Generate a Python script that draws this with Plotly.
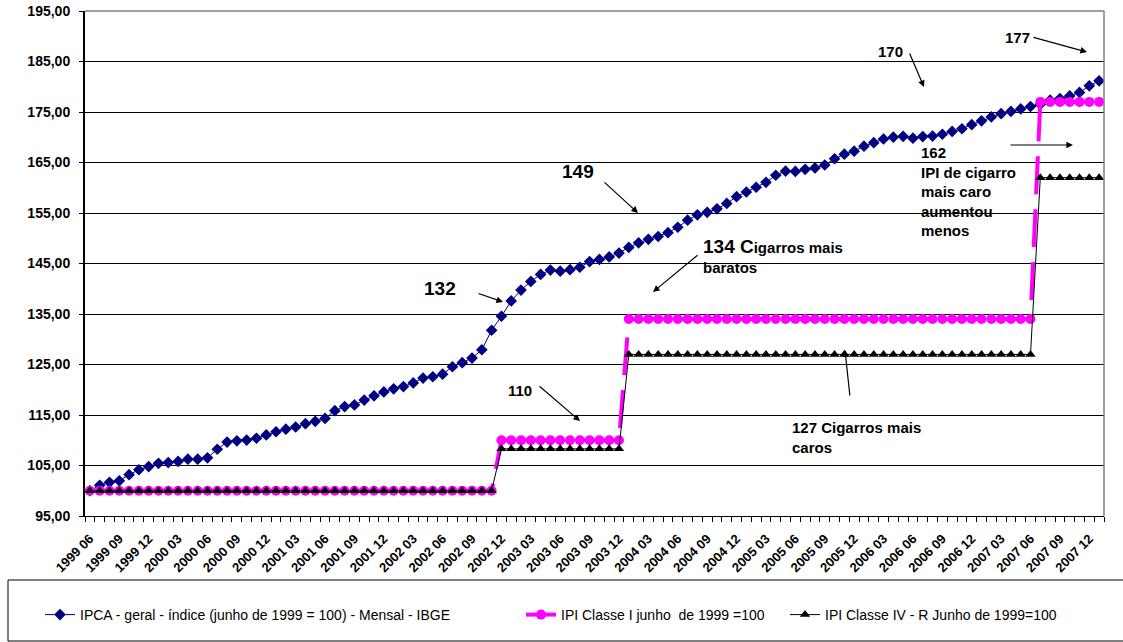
import plotly.graph_objects as go

# Monthly categories, June 1999 to January 2008
months = [f"{y} {m:02d}" for y in range(1999, 2009) for m in range(1, 13)]
months = months[months.index("1999 06"): months.index("2008 01") + 1]

# IPCA general index (June 1999 = 100), monthly
ipca = [100.00, 101.09, 101.66, 101.97, 103.18, 104.16, 104.79,
        105.44, 105.58, 105.81, 106.25, 106.26, 106.51, 108.22, 109.64, 109.89, 110.04, 110.40, 111.05,
        111.68, 112.20, 112.62, 113.28, 113.74, 114.33, 115.85, 116.66, 116.99, 117.96, 118.80, 119.57,
        120.19, 120.62, 121.35, 122.32, 122.57, 123.09, 124.55, 125.36, 126.27, 127.92, 131.78, 134.55,
        137.58, 139.74, 141.46, 142.83, 143.70, 143.49, 143.77, 144.26, 145.39, 145.81, 146.31, 147.07,
        148.19, 149.09, 149.79, 150.35, 151.11, 152.18, 153.57, 154.63, 155.14, 155.82, 156.89, 158.24,
        159.16, 160.10, 161.07, 162.48, 163.28, 163.24, 163.65, 163.93, 164.50, 165.74, 166.65, 167.25,
        168.23, 168.92, 169.65, 170.01, 170.18, 169.82, 170.14, 170.23, 170.59, 171.15, 171.68, 172.50,
        173.26, 174.03, 174.67, 175.11, 175.60, 176.09, 176.51, 177.34, 177.66, 178.19, 178.87, 180.19,
        181.17]

# IPI indices: level in force from each change month onward
ipi_change_months = ["1999 06", "2002 12", "2004 01", "2007 07"]
ipi_classe_i = [100.0, 110.0, 134.0, 177.0]
ipi_classe_iv = [100.0, 108.3, 127.0, 162.0]

tick_labels = months[::3]

names = ["IPCA - geral - índice (junho de 1999 = 100) - Mensal - IBGE",
         "IPI Classe I junho  de 1999 =100",
         "IPI Classe IV - R Junho de 1999=100"]


def expand_steps(levels):
    starts = [months.index(m) for m in ipi_change_months] + [len(months)]
    out = []
    for k, lv in enumerate(levels):
        out += [lv] * (starts[k + 1] - starts[k])
    return out


x = list(range(len(months)))
FONT = "Liberation Sans, Arial, sans-serif"
W, H = 1123, 642

fig = go.Figure()
fig.add_trace(go.Scatter(
    x=x, y=ipca, name=names[0], mode="lines+markers", legend="legend",
    line=dict(color="#000080", width=1),
    marker=dict(symbol="diamond", size=9, color="#000080")))
fig.add_trace(go.Scatter(
    x=x, y=expand_steps(ipi_classe_i), name=names[1], mode="lines+markers", legend="legend2",
    line=dict(color="#FF00FF", width=4, dash="38px,15px"),
    marker=dict(symbol="circle", size=10, color="#FF00FF")))
fig.add_trace(go.Scatter(
    x=x, y=expand_steps(ipi_classe_iv), name=names[2], mode="lines+markers", legend="legend3",
    line=dict(color="black", width=1),
    marker=dict(symbol="triangle-up", size=9, color="black")))

# plot-area pixel frame
L, R, T, B = 85, 1104, 11, 516


def px(v):
    return (v - L) / (R - L)


def py(v):
    return (B - v) / (B - T)


def text_note(txt, xp, yp, size=15, xanchor="center", yanchor="middle", align="center"):
    return dict(text=txt, x=px(xp), y=py(yp), xref="paper", yref="paper",
                xanchor=xanchor, yanchor=yanchor, align=align, showarrow=False,
                font=dict(family=FONT, size=size, color="black", weight="bold"))


def arrow(tail, head):
    return dict(text="", x=px(head[0]), y=py(head[1]), xref="paper", yref="paper",
                ax=tail[0] - head[0], ay=tail[1] - head[1], showarrow=True,
                arrowhead=2, arrowsize=1.1, arrowwidth=1.2, arrowcolor="black")


annotations = [
    text_note("149", 578, 172, size=19),
    arrow((603, 181), (638, 213)),
    text_note("132", 440, 288, size=19),
    arrow((477, 293), (503, 302)),
    text_note("<span style='font-size:19px'>134 C</span>igarros mais<br>baratos",
              701, 256, xanchor="left", align="left"),
    arrow((699, 254), (653, 292)),
    text_note("110", 520, 390),
    arrow((538, 385), (580, 421)),
    text_note("127 Cigarros mais<br>caros", 790, 437, xanchor="left", align="left"),
    arrow((850, 397), (845, 350)),
    text_note("170", 890, 52),
    arrow((909, 52), (924, 87)),
    text_note("177", 1017, 37),
    arrow((1032, 37), (1087, 52)),
    text_note("162<br>IPI de cigarro<br>mais caro<br>aumentou<br>menos", 919, 191,
              xanchor="left", align="left"),
    arrow((1009, 145), (1073, 145)),
]

shapes = [
    # plot-area border (top and right)
    dict(type="line", xref="paper", yref="paper", x0=0, x1=1, y0=1, y1=1,
         line=dict(color="#808080", width=1.5), layer="above"),
    dict(type="line", xref="paper", yref="paper", x0=1, x1=1, y0=0, y1=1,
         line=dict(color="#808080", width=1.5), layer="above"),
    # legend frame
    dict(type="rect", xref="paper", yref="paper", x0=px(8), x1=px(1135),
         y0=py(641), y1=py(580), line=dict(color="black", width=1)),
]

legend_common = dict(orientation="h", xanchor="left", yanchor="middle",
                     xref="container", yref="container", y=(H - 615) / H,
                     bgcolor="rgba(0,0,0,0)", borderwidth=0,
                     font=dict(family=FONT, size=14, color="black"))

fig.update_layout(
    width=W, height=H, autosize=False,
    margin=dict(l=L, r=W - R, t=T, b=H - B, autoexpand=False),
    paper_bgcolor="white", plot_bgcolor="white",
    separators=",.",
    font=dict(family=FONT, color="black"),
    showlegend=True,
    legend=dict(legend_common, x=40 / W),
    legend2=dict(legend_common, x=521 / W),
    legend3=dict(legend_common, x=785 / W),
    annotations=annotations,
    shapes=shapes,
    xaxis=dict(
        automargin=False,
        range=[-0.5, len(months) - 0.5],
        tickmode="array", tickvals=x[::3], ticktext=tick_labels,
        tickangle=-45, ticks="", ticklabelstandoff=9,
        tickfont=dict(family=FONT, size=13, color="black", weight="bold"),
        showgrid=False, zeroline=False,
        showline=True, linecolor="black", linewidth=1,
        minor=dict(tickmode="array", tickvals=[i - 0.5 for i in range(len(months) + 1)],
                   ticks="outside", ticklen=5, tickcolor="black", tickwidth=1, showgrid=False),
    ),
    yaxis=dict(
        automargin=False,
        range=[95, 195], tick0=95, dtick=10, tickformat=".2f",
        tickfont=dict(family=FONT, size=14, color="black", weight="bold"),
        ticks="outside", ticklen=4, tickcolor="black", ticklabelstandoff=6,
        showgrid=True, gridcolor="black", gridwidth=1,
        zeroline=False, showline=True, linecolor="black", linewidth=2,
    ),
)

fig.write_html("out.html")
